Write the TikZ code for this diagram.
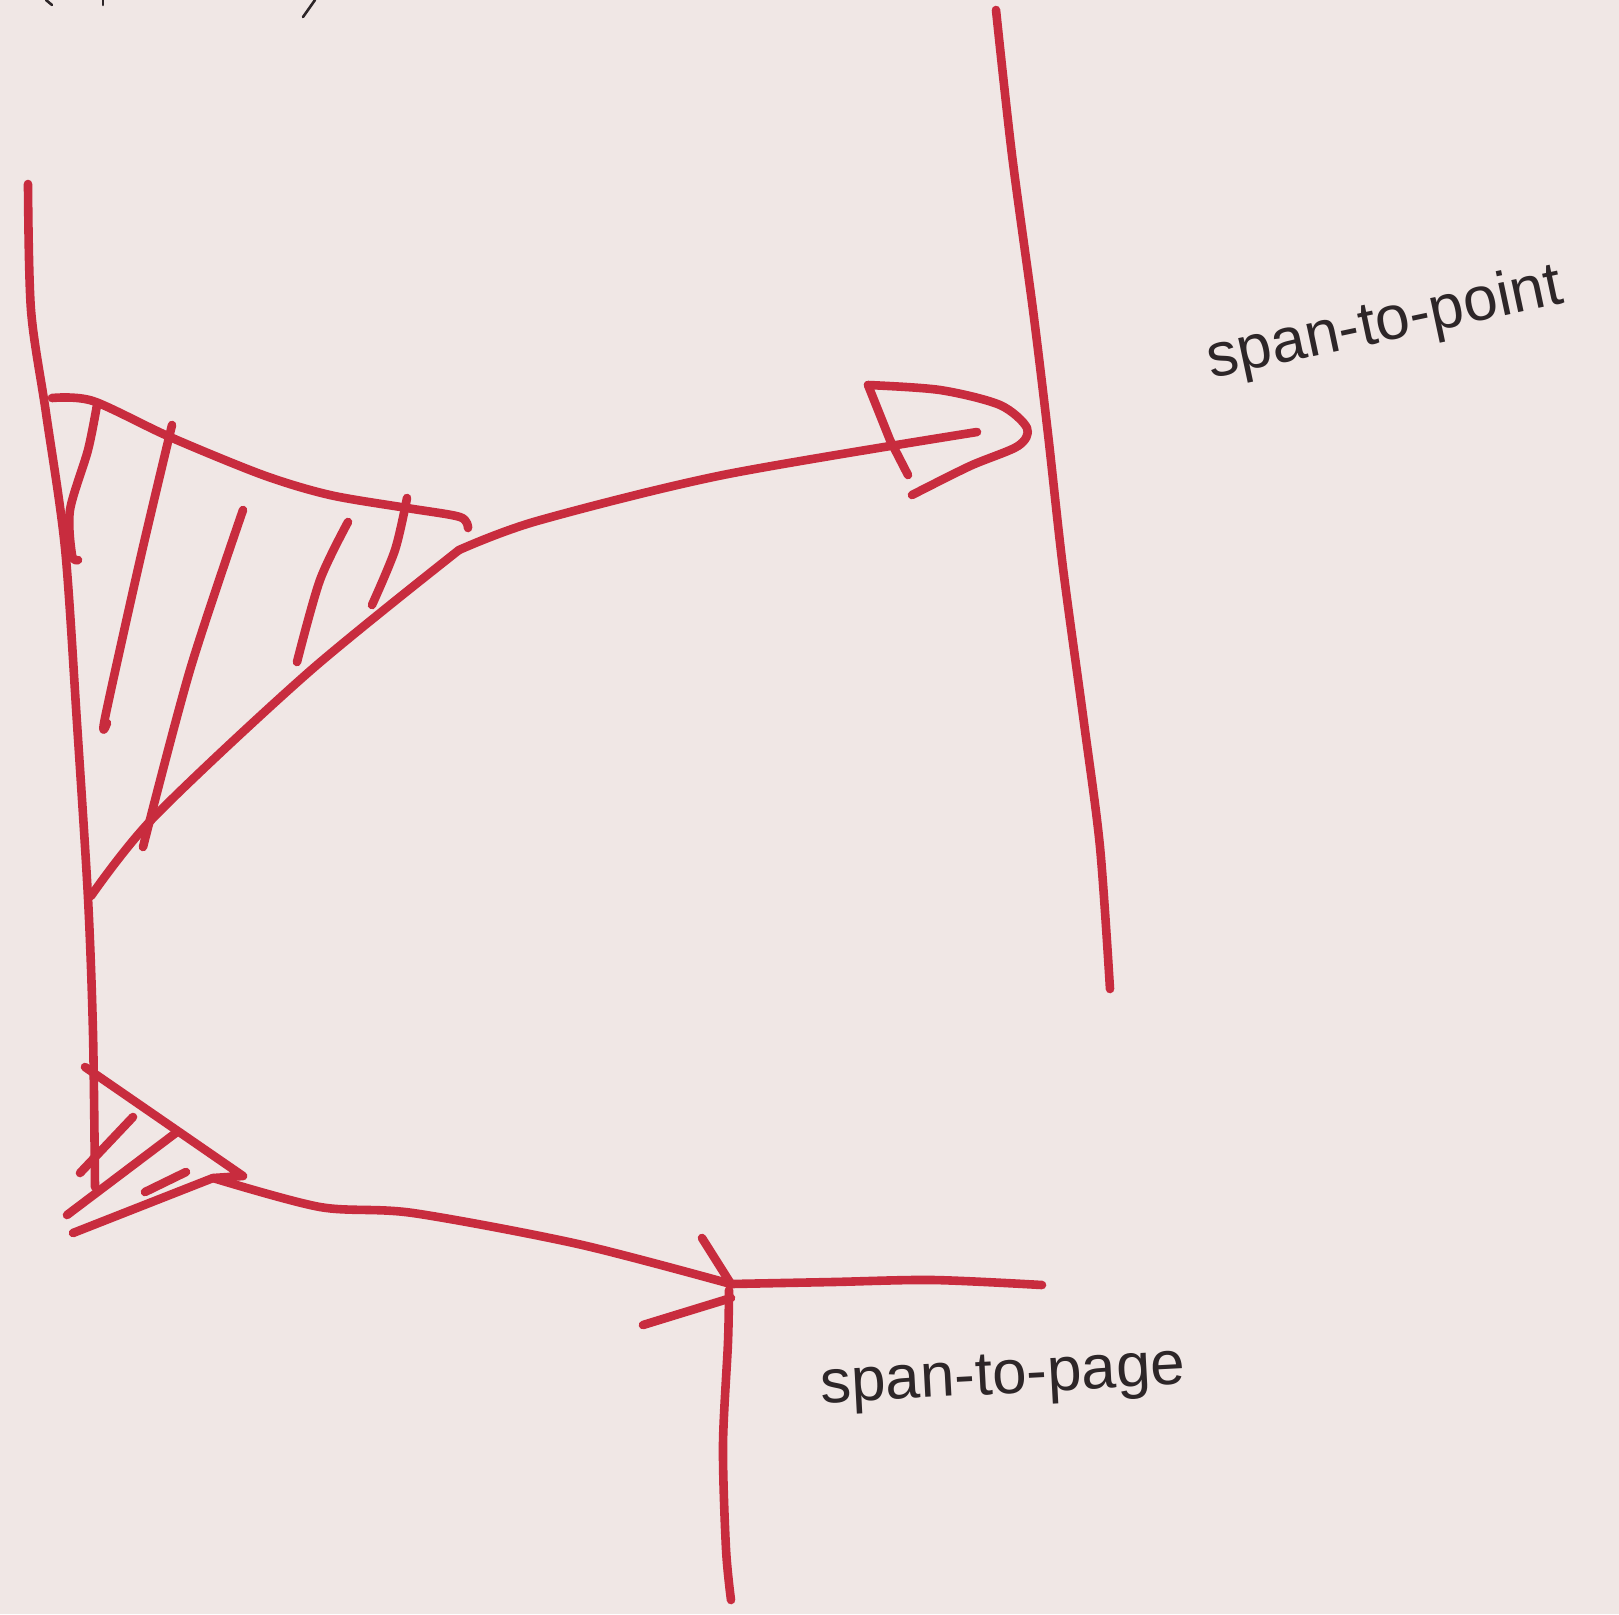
\documentclass[tikz,border=0pt]{standalone}
\usepackage{fontspec}
\setmainfont{Liberation Sans}
\definecolor{paper}{RGB}{240,231,229}
\definecolor{marker}{RGB}{200,44,62}
\definecolor{ink}{RGB}{45,38,40}
\tikzset{
  pen/.style={draw=marker, line width=4.3pt, line cap=round, line join=round},
  hand/.style={text=ink, font=\fontsize{31}{35}\selectfont, inner sep=0pt},
  scrawl/.style={draw=ink, line width=1.3pt, line cap=round}
}
\begin{document}
\begin{tikzpicture}[x=0.5pt,y=-0.5pt]
\fill[paper] (0,0) rectangle (1619,1614);
\useasboundingbox (0,0) rectangle (1619,1614);
% cut-off marks at top
\draw[scrawl] (46,0) -- (52,5);
\draw[scrawl] (103,0) -- (103,5);
\draw[scrawl] (315,0) -- (303,17);
% left long line
\draw[pen] plot[smooth] coordinates {(28,184) (31,310) (46,413) (65,548) (77,723) (88,898) (93,1033) (95,1187)};
% right long line
\draw[pen] plot[smooth] coordinates {(996,10) (1012,155) (1033,310) (1048,434) (1063,568) (1084,723) (1100,847) (1110,989)};
% upper hatched triangle
\coordinate (tip) at (459,550);
\draw[pen] plot[smooth] coordinates {(52,398) (93,401) (170,437) (263,475) (330,495) (407,508) (460,517) (468,528)};
\draw[pen] plot[smooth] coordinates {(tip) (310,671) (155,816) (91,896)};
\draw[pen] plot[smooth] coordinates {(97,405) (88,450) (70,510) (72,555) (78,560)};
\draw[pen] plot[smooth] coordinates {(172,425) (140,560) (105,718) (107,723)};
\draw[pen] plot[smooth] coordinates {(243,510) (190,670) (143,847)};
\draw[pen] plot[smooth] coordinates {(348,522) (320,580) (297,662)};
\draw[pen] plot[smooth] coordinates {(407,498) (395,550) (372,605)};
% arrow to right line
\coordinate (head) at (977,432);
\draw[pen] plot[smooth] coordinates {(tip) (537,521) (723,475) (head)};
\draw[pen] plot[smooth] coordinates {(868,385) (940,390) (1000,405) (1027,428) (1018,446) (970,466) (912,495)};
\draw[pen] (868,385) -- (890,440) -- (908,475);
% lower small hatched triangle
\coordinate (corner) at (213,1178);
\draw[pen] (85,1067) -- (243,1176) -- (corner) -- (73,1233);
\draw[pen] (133,1117) -- (80,1173);
\draw[pen] (177,1132) -- (67,1215);
\draw[pen] (186,1172) -- (145,1192);
% arrow to page corner
\coordinate (junction) at (731,1284);
\draw[pen] plot[smooth] coordinates {(corner) (320,1207) (413,1213) (578,1244) (junction)};
\draw[pen] (702,1238) -- (731,1284);
\draw[pen] (643,1325) -- (731,1298);
\draw[pen] plot[smooth] coordinates {(junction) (833,1282) (933,1280) (1042,1285)};
\draw[pen] plot[smooth] coordinates {(729,1290) (728,1342) (723,1445) (726,1549) (731,1600)};
% labels
\node[hand, rotate=12] (pointlabel) at (1385,325) {span-to-point};
\node[hand, rotate=3] (pagelabel) at (1003,1380) {span-to-page};
\end{tikzpicture}
\end{document}
